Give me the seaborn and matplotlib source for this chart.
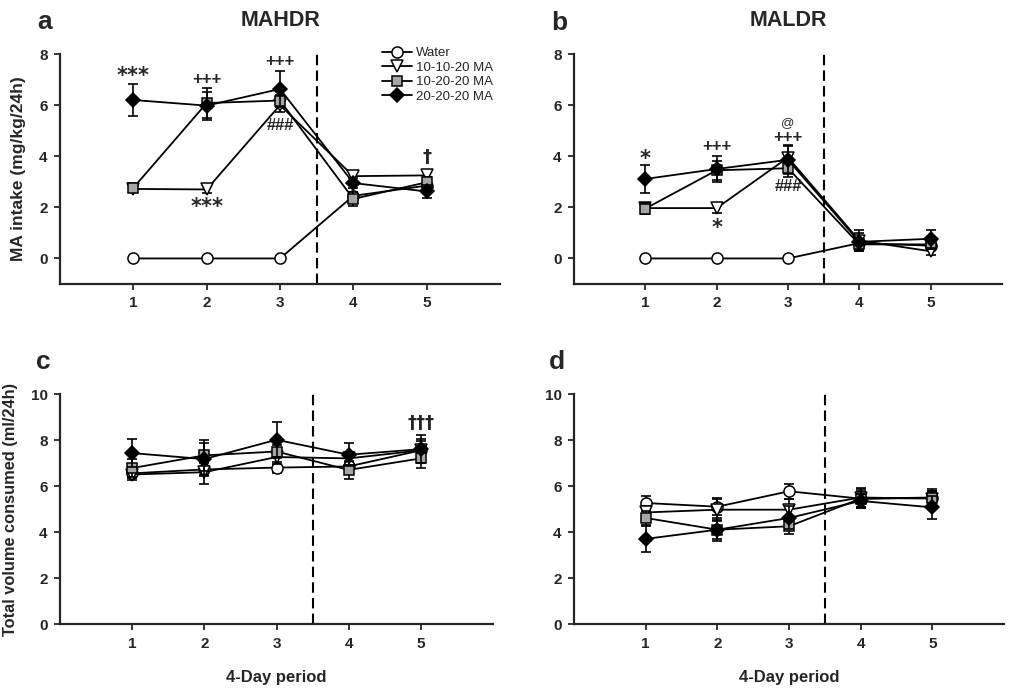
import matplotlib
matplotlib.use('Agg')
import matplotlib.pyplot as plt
import seaborn as sns

# Dados (médias e EPM)
periods = [1, 2, 3, 4, 5]
groups = ['Water', '10-10-20 MA', '10-20-20 MA', '20-20-20 MA']

# a - MAHDR, ingestão de MA
water_a = [0, 0, 0, 2.45, 2.85]
tri_a = [2.72, 2.70, 6.00, 3.22, 3.25]
sq_a = [2.76, 6.08, 6.18, 2.33, 2.98]
dia_a = [6.20, 5.98, 6.63, 2.95, 2.62]
water_a_err = [0, 0, 0, 0.15, 0.15]
tri_a_err = [0.10, 0.12, 0.25, 0.22, 0.20]
sq_a_err = [0.12, 0.60, 0.20, 0.26, 0.20]
dia_a_err = [0.62, 0.55, 0.70, 0.20, 0.25]

# b - MALDR, ingestão de MA
water_b = [0, 0, 0, 0.60, 0.50]
tri_b = [1.97, 1.97, 3.95, 0.70, 0.28]
sq_b = [1.95, 3.45, 3.53, 0.55, 0.55]
dia_b = [3.11, 3.50, 3.86, 0.65, 0.77]
water_b_err = [0, 0, 0, 0.10, 0.10]
tri_b_err = [0.15, 0.20, 0.50, 0.40, 0.15]
sq_b_err = [0.22, 0.38, 0.33, 0.20, 0.20]
dia_b_err = [0.53, 0.50, 0.55, 0.35, 0.35]

# c - MAHDR, volume total
water_c = [6.55, 6.72, 6.80, 6.85, 7.55]
tri_c = [6.50, 6.60, 7.26, 7.20, 7.55]
sq_c = [6.78, 7.33, 7.50, 6.70, 7.20]
dia_c = [7.43, 7.17, 8.01, 7.36, 7.60]
water_c_err = [0.20, 0.30, 0.23, 0.20, 0.40]
tri_c_err = [0.23, 0.50, 0.30, 0.30, 0.50]
sq_c_err = [0.40, 0.68, 0.30, 0.40, 0.40]
dia_c_err = [0.62, 0.70, 0.77, 0.50, 0.60]

# d - MALDR, volume total
water_d = [5.26, 5.10, 5.77, 5.45, 5.48]
tri_d = [4.85, 4.97, 4.97, 5.50, 5.45]
sq_d = [4.61, 4.10, 4.25, 5.45, 5.50]
dia_d = [3.70, 4.10, 4.61, 5.35, 5.07]
water_d_err = [0.32, 0.38, 0.33, 0.35, 0.30]
tri_d_err = [0.30, 0.45, 0.45, 0.40, 0.35]
sq_d_err = [0.30, 0.40, 0.32, 0.40, 0.35]
dia_d_err = [0.55, 0.50, 0.50, 0.30, 0.50]

# Marcas de significância (texto, período, valor y)
notes_a = [('***', 1, 7.15), ('+++', 2, 7.0), ('+++', 3, 7.7), ('###', 3, 5.2),
           ('***', 2, 2.0), ('\u2020', 5, 3.95)]
notes_b = [('*', 1, 3.9), ('+++', 2, 4.37), ('@', 3, 5.3), ('+++', 3, 4.75),
           ('###', 3, 2.8), ('*', 2, 1.2)]
notes_c = [('\u2020\u2020\u2020', 5, 8.75)]
notes_d = []

styles = [('o', 'white', 8), ('v', 'white', 8), ('s', '#a6a6a6', 7), ('D', 'black', 7)]

sns.set_style('ticks')
plt.rcParams['font.family'] = ['Liberation Sans', 'DejaVu Sans']

W, H = 1010, 691
fig = plt.figure(figsize=(W / 100, H / 100), dpi=100)


def px_axes(left, top, right, bottom):
    return fig.add_axes([left / W, 1 - bottom / H, (right - left) / W, (bottom - top) / H])


def painel(ax, means, errs, notes, ylim, yticks, legend=False):
    for i, (m, e) in enumerate(zip(means, errs)):
        marker, face, ms = styles[i]
        ax.errorbar(periods, m, yerr=e, fmt='none', ecolor='black', elinewidth=1.2,
                    capsize=3.5, capthick=1.2, zorder=2 + i)
        sns.lineplot(x=periods, y=m, ax=ax, color='black', lw=1.3, marker=marker,
                     markerfacecolor=face, markeredgecolor='black', markeredgewidth=1.1,
                     markersize=ms, errorbar=None, zorder=2 + i,
                     label=groups[i] if legend else None)
    ax.axvline(3.5, color='black', lw=1.5, ls=(0, (5, 2.5)), zorder=1)
    for txt, x, y in notes:
        if '*' in txt:
            ax.text(x, y, txt, ha='center', va='center', fontsize=15, fontweight='bold',
                    fontfamily=['DejaVu Sans'])
        elif '\u2020' in txt:
            ax.text(x, y, txt, ha='center', va='center', fontsize=13, fontweight='bold',
                    fontfamily=['DejaVu Sans'])
        elif txt == '@':
            ax.text(x, y, txt, ha='center', va='center', fontsize=9.5)
        else:
            ax.text(x, y, txt, ha='center', va='center', fontsize=12, fontweight='bold')
    ax.set_xlim(0, 6)
    ax.set_ylim(*ylim)
    ax.set_xticks(periods)
    ax.set_yticks(yticks)
    ax.set_xlabel('')
    ax.set_ylabel('')
    for lab in ax.get_xticklabels() + ax.get_yticklabels():
        lab.set_fontweight('bold')
    ax.tick_params(labelsize=11, length=4, width=1.3, direction='out', pad=5)
    sns.despine(ax=ax)
    for s in ['left', 'bottom']:
        ax.spines[s].set_linewidth(1.6)
    if legend:
        ax.legend(frameon=False, loc='upper right', bbox_to_anchor=(0.985, 1.03),
                  borderaxespad=0, borderpad=0, fontsize=9.5, handlelength=2.3,
                  handletextpad=0.3, labelspacing=0.17)
    elif ax.get_legend() is not None:
        ax.get_legend().remove()


ax_a = px_axes(60, 54, 500, 284)
ax_b = px_axes(574, 54, 1002, 284)
ax_c = px_axes(60, 394, 493, 624)
ax_d = px_axes(574, 394, 1004, 624)

painel(ax_a, [water_a, tri_a, sq_a, dia_a], [water_a_err, tri_a_err, sq_a_err, dia_a_err],
       notes_a, (-1, 8), [0, 2, 4, 6, 8], legend=True)
painel(ax_b, [water_b, tri_b, sq_b, dia_b], [water_b_err, tri_b_err, sq_b_err, dia_b_err],
       notes_b, (-1, 8), [0, 2, 4, 6, 8])
painel(ax_c, [water_c, tri_c, sq_c, dia_c], [water_c_err, tri_c_err, sq_c_err, dia_c_err],
       notes_c, (0, 10), [0, 2, 4, 6, 8, 10])
painel(ax_d, [water_d, tri_d, sq_d, dia_d], [water_d_err, tri_d_err, sq_d_err, dia_d_err],
       notes_d, (0, 10), [0, 2, 4, 6, 8, 10])

ax_a.set_ylabel('MA intake (mg/kg/24h)', fontsize=12.5, fontweight='bold', labelpad=9)
ax_c.set_ylabel('Total volume consumed (ml/24h)', fontsize=11.8, fontweight='bold', labelpad=9)
ax_c.set_xlabel('4-Day period', fontsize=12, fontweight='bold', labelpad=14)
ax_d.set_xlabel('4-Day period', fontsize=12, fontweight='bold', labelpad=14)

ax_a.set_title('MAHDR', fontsize=15.5, fontweight='bold', pad=20)
ax_b.set_title('MALDR', fontsize=15.5, fontweight='bold', pad=20)

for lab, x, y in [('a', 45, 22), ('b', 559, 23), ('c', 43, 362), ('d', 557, 362)]:
    fig.text(x / W, 1 - y / H, lab, fontsize=19, fontweight='bold', ha='center', va='center')

fig.savefig('out.png', dpi=100)
